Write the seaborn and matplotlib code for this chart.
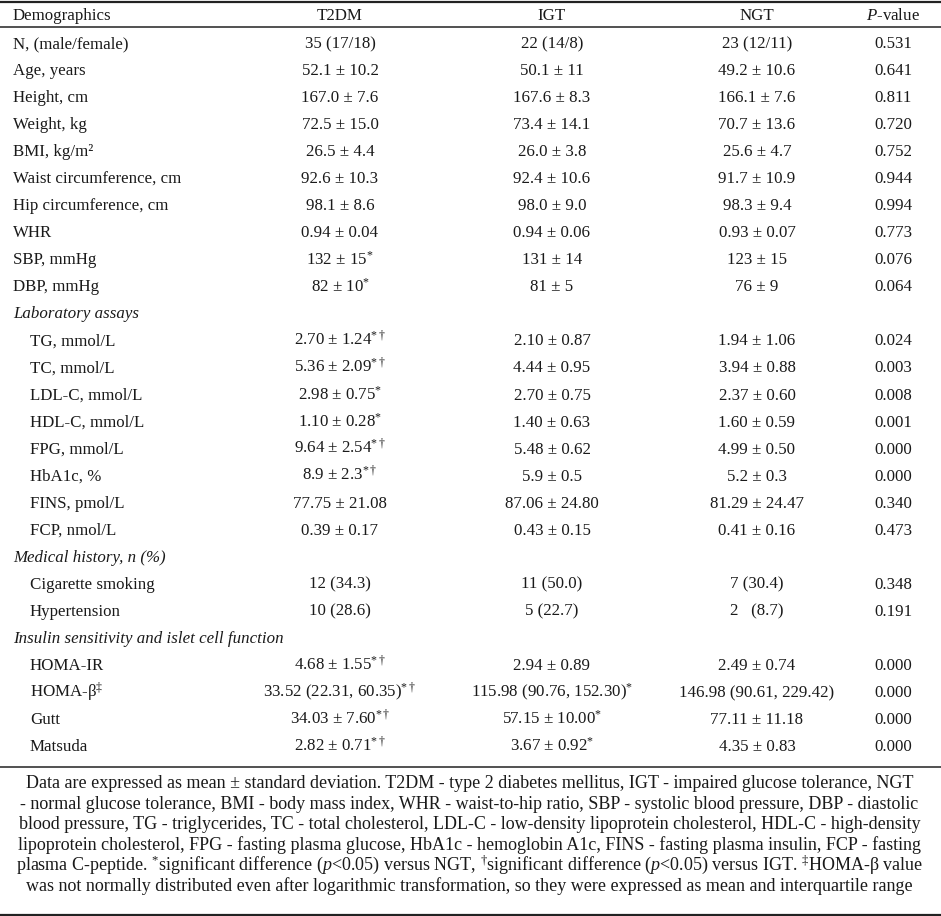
import matplotlib
matplotlib.use("Agg")
import matplotlib.pyplot as plt
import seaborn as sns

# Table contents
headers = ["Demographics", "T2DM", "IGT", "NGT", "$P$-value"]

labels = [
    "N, (male/female)", "Age, years", "Height, cm", "Weight, kg", "BMI, kg/m²",
    "Waist circumference, cm", "Hip circumference, cm", "WHR", "SBP, mmHg", "DBP, mmHg",
    "Laboratory assays",
    "TG, mmol/L", "TC, mmol/L", "LDL-C, mmol/L", "HDL-C, mmol/L", "FPG, mmol/L",
    "HbA1c, %", "FINS, pmol/L", "FCP, nmol/L",
    "Medical history, n (%)",
    "Cigarette smoking", "Hypertension",
    "Insulin sensitivity and islet cell function",
    "HOMA-IR", r"HOMA-β$^{\ddagger}$", "Gutt", "Matsuda",
]
section_rows = [10, 19, 22]
indented_rows = [11, 12, 13, 14, 15, 16, 17, 18, 20, 21, 23, 24, 25, 26]

t2dm = [
    "35 (17/18)", "52.1 ± 10.2", "167.0 ± 7.6", "72.5 ± 15.0", "26.5 ± 4.4",
    "92.6 ± 10.3", "98.1 ± 8.6", "0.94 ± 0.04", "132 ± 15", "82 ± 10",
    "",
    "2.70 ± 1.24", "5.36 ± 2.09", "2.98 ± 0.75", "1.10 ± 0.28", "9.64 ± 2.54",
    "8.9 ± 2.3", "77.75 ± 21.08", "0.39 ± 0.17",
    "",
    "12 (34.3)", "10 (28.6)",
    "",
    "4.68 ± 1.55", "33.52 (22.31, 60.35)", "34.03 ± 7.60", "2.82 ± 0.71",
]
t2dm_sig = [
    "", "", "", "", "", "", "", "", "*", "*",
    "",
    "*†", "*†", "*", "*", "*†", "*†", "", "",
    "",
    "", "",
    "",
    "*†", "*†", "*†", "*†",
]
igt = [
    "22 (14/8)", "50.1 ± 11", "167.6 ± 8.3", "73.4 ± 14.1", "26.0 ± 3.8",
    "92.4 ± 10.6", "98.0 ± 9.0", "0.94 ± 0.06", "131 ± 14", "81 ± 5",
    "",
    "2.10 ± 0.87", "4.44 ± 0.95", "2.70 ± 0.75", "1.40 ± 0.63", "5.48 ± 0.62",
    "5.9 ± 0.5", "87.06 ± 24.80", "0.43 ± 0.15",
    "",
    "11 (50.0)", "5 (22.7)",
    "",
    "2.94 ± 0.89", "115.98 (90.76, 152.30)", "57.15 ± 10.00", "3.67 ± 0.92",
]
igt_sig = [""] * 24 + ["*", "*", "*"]
ngt = [
    "23 (12/11)", "49.2 ± 10.6", "166.1 ± 7.6", "70.7 ± 13.6", "25.6 ± 4.7",
    "91.7 ± 10.9", "98.3 ± 9.4", "0.93 ± 0.07", "123 ± 15", "76 ± 9",
    "",
    "1.94 ± 1.06", "3.94 ± 0.88", "2.37 ± 0.60", "1.60 ± 0.59", "4.99 ± 0.50",
    "5.2 ± 0.3", "81.29 ± 24.47", "0.41 ± 0.16",
    "",
    "7 (30.4)", "2   (8.7)",
    "",
    "2.49 ± 0.74", "146.98 (90.61, 229.42)", "77.11 ± 11.18", "4.35 ± 0.83",
]
p_values = [
    "0.531", "0.641", "0.811", "0.720", "0.752", "0.944", "0.994", "0.773", "0.076", "0.064",
    "",
    "0.024", "0.003", "0.008", "0.001", "0.000", "0.000", "0.340", "0.473",
    "",
    "0.348", "0.191",
    "",
    "0.000", "0.000", "0.000", "0.000",
]

footnote = [
    "Data are expressed as mean ± standard deviation. T2DM - type 2 diabetes mellitus, IGT - impaired glucose tolerance, NGT",
    "- normal glucose tolerance, BMI - body mass index, WHR - waist-to-hip ratio, SBP - systolic blood pressure, DBP - diastolic",
    "blood pressure, TG - triglycerides, TC - total cholesterol, LDL-C - low-density lipoprotein cholesterol, HDL-C - high-density",
    "lipoprotein cholesterol, FPG - fasting plasma glucose, HbA1c - hemoglobin A1c, FINS - fasting plasma insulin, FCP - fasting",
    r"plasma C-peptide. $^{*}$significant difference ($p$<0.05) versus NGT, $^{\dagger}$significant difference ($p$<0.05) versus IGT. $^{\ddagger}$HOMA-β value",
    "was not normally distributed even after logarithmic transformation, so they were expressed as mean and interquartile range",
]

sns.set_theme(style="white")
plt.rcParams["font.family"] = ["Liberation Serif", "DejaVu Serif"]
plt.rcParams["mathtext.fontset"] = "custom"
plt.rcParams["mathtext.rm"] = "Liberation Serif"
plt.rcParams["mathtext.it"] = "Liberation Serif:italic"
plt.rcParams["mathtext.bf"] = "Liberation Serif:bold"

W, H = 941, 916
fig = plt.figure(figsize=(W / 100, H / 100), dpi=100)
ax = fig.add_axes([0, 0, 1, 1])
ax.set_xlim(0, W)
ax.set_ylim(H, 0)
ax.axis("off")

fs = 12.2
fs_note = 13.0
col_x = [13, 340, 552, 757, 893]
indent_x = 30
header_base = 20
row0_base = 48
row_h = 27.04
txt_color = "#1a1a1a"


def with_sig(value, sig):
    if not sig:
        return value
    return value + "$^{" + sig.replace("†", r"\dagger") + "}$"


# header
ax.text(col_x[0], header_base, headers[0], ha="left", va="baseline", fontsize=fs, color=txt_color)
for x, h in zip(col_x[1:], headers[1:]):
    ax.text(x, header_base, h, ha="center", va="baseline", fontsize=fs, color=txt_color)

# body rows
for i, lab in enumerate(labels):
    yb = row0_base + i * row_h
    if i in section_rows:
        ax.text(col_x[0], yb, lab, ha="left", va="baseline", fontsize=fs,
                style="italic", color=txt_color)
        continue
    x0 = indent_x if i in indented_rows else col_x[0]
    cells = [with_sig(t2dm[i], t2dm_sig[i]), with_sig(igt[i], igt_sig[i]), ngt[i], p_values[i]]
    ax.text(x0, yb, lab, ha="left", va="baseline", fontsize=fs, color=txt_color)
    for x, c in zip(col_x[1:], cells):
        ax.text(x, yb, c, ha="center", va="baseline", fontsize=fs, color=txt_color)

# rules
for y, lw in [(1.5, 1.6), (27, 1.1), (767, 1.1), (914.5, 1.6)]:
    ax.axhline(y, color="#222222", lw=lw)

# footnote
for j, line in enumerate(footnote):
    ax.text(W / 2 - 1, 788 + j * 20.6, line, ha="center", va="baseline",
            fontsize=fs_note, color=txt_color)

fig.savefig("out.png", dpi=100)
